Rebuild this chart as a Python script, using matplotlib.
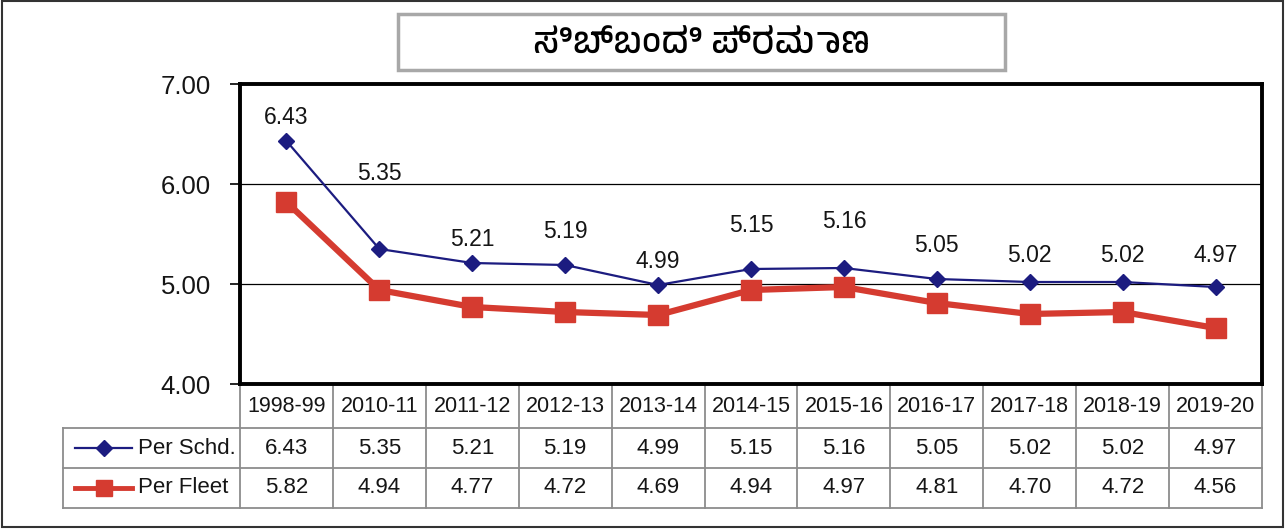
import matplotlib
matplotlib.use("Agg")
import matplotlib.pyplot as plt
from matplotlib import font_manager
from matplotlib.ft2font import FT2Font
from matplotlib.lines import Line2D
from matplotlib.patches import Rectangle

# data
years = ["1998-99", "2010-11", "2011-12", "2012-13", "2013-14", "2014-15",
         "2015-16", "2016-17", "2017-18", "2018-19", "2019-20"]
per_schd = [6.43, 5.35, 5.21, 5.19, 4.99, 5.15, 5.16, 5.05, 5.02, 5.02, 4.97]
per_fleet = [5.82, 4.94, 4.77, 4.72, 4.69, 4.94, 4.97, 4.81, 4.70, 4.72, 4.56]
series_names = ["Per Schd.", "Per Fleet"]
title = "ಸಿಬ್ಬಂದಿ ಪ್ರಮಾಣ"

BLUE = "#1c1c80"
RED = "#d53b30"
GRID = "#8c8c8c"
TXT = "#151515"


def find_font(ch):
    """Return a family name that has a glyph for ch, or None."""
    fonts = sorted(font_manager.fontManager.ttflist,
                   key=lambda f: "kannada" not in f.name.lower())
    for f in fonts:
        try:
            if ord(ch) in FT2Font(f.fname).get_charmap():
                return f.name
        except Exception:
            pass
    return None


plt.rcParams['font.family'] = ['Liberation Sans', 'DejaVu Sans']
kn_font = find_font("ಸ")
title_family = [kn_font, 'DejaVu Sans'] if kn_font else ['Noto Sans', 'DejaVu Sans']

fig = plt.figure(figsize=(12.85, 5.29), dpi=100)
ax = fig.add_axes([240 / 1285, 1 - 384 / 529, 1022 / 1285, 300 / 529])

x = list(range(len(years)))
ax.plot(x, per_fleet, color=RED, lw=4.5, marker='s', ms=15, mec=RED, zorder=3)
ax.plot(x, per_schd, color=BLUE, lw=1.6, marker='D', ms=8, mec=BLUE, zorder=4)

# value labels above the Per Schd. line
label_offsets = [24, 76, 23, 33, 23, 43, 46, 34, 27, 27, 31]
for i, v in enumerate(per_schd):
    ax.annotate(f"{v:.2f}", (i, v), xytext=(0, label_offsets[i]),
                textcoords='offset pixels', ha='center', va='center',
                fontsize=16.5, color=TXT)

ax.set_xlim(-0.5, len(years) - 0.5)
ax.set_ylim(4, 7)
ax.set_yticks([4, 5, 6, 7])
ax.set_yticklabels([f"{t:.2f}" for t in [4, 5, 6, 7]], fontsize=18.5, color=TXT)
ax.set_xticks([])
ax.tick_params(axis='y', direction='out', length=7, width=1.2, pad=14)
for t in [5, 6]:
    ax.axhline(t, color='black', lw=0.9, zorder=1)
for s in ax.spines.values():
    s.set_linewidth(2.8)
    s.set_color('black')

# data table under the axis
tr = ax.get_xaxis_transform()
row_edges = [0, -0.1467, -0.28, -0.4133]
leg_left = (63 - 240) / 1022
lkw = dict(color=GRID, lw=1.3, clip_on=False)
for i in range(len(years) + 1):
    ax.add_line(Line2D([i - 0.5, i - 0.5], [row_edges[0], row_edges[-1]],
                       transform=tr, **lkw))
for yy in row_edges[1:]:
    ax.add_line(Line2D([leg_left, 1], [yy, yy], transform=ax.transAxes, **lkw))
ax.add_line(Line2D([leg_left, leg_left], [row_edges[1], row_edges[-1]],
                   transform=ax.transAxes, **lkw))

for i, yr in enumerate(years):
    ax.text(i, (row_edges[0] + row_edges[1]) / 2, yr, transform=tr,
            ha='center', va='center', fontsize=15.5, color=TXT)
    ax.text(i, (row_edges[1] + row_edges[2]) / 2, f"{per_schd[i]:.2f}",
            transform=tr, ha='center', va='center', fontsize=16, color=TXT)
    ax.text(i, (row_edges[2] + row_edges[3]) / 2, f"{per_fleet[i]:.2f}",
            transform=tr, ha='center', va='center', fontsize=16, color=TXT)

# legend keys inside the table
key_x0, key_x1 = (75 - 240) / 1022, (132 - 240) / 1022
styles = [dict(color=BLUE, lw=1.6, marker='D', ms=8),
          dict(color=RED, lw=3.5, marker='s', ms=12)]
for r, (name, st) in enumerate(zip(series_names, styles)):
    yc = (row_edges[r + 1] + row_edges[r + 2]) / 2
    ax.add_line(Line2D([key_x0, key_x1], [yc, yc], transform=ax.transAxes,
                       clip_on=False, **st, markevery=[]))
    ax.add_line(Line2D([(key_x0 + key_x1) / 2], [yc], transform=ax.transAxes,
                       clip_on=False, ls='none', marker=st['marker'],
                       ms=st['ms'], color=st['color']))
    ax.text((138 - 240) / 1022, yc, name, transform=ax.transAxes,
            ha='left', va='center', fontsize=16, color=TXT)

# title box
fig.patches.append(Rectangle((398 / 1285, 1 - 70 / 529), 607 / 1285, 56 / 529,
                             transform=fig.transFigure, fill=False,
                             ec='#a8a8a8', lw=2.5))
fig.text(701 / 1285, 1 - 44 / 529, title, ha='center', va='center',
         fontsize=26, family=title_family, color='black')

# outer frame
fig.patches.append(Rectangle((2 / 1285, 2 / 529), 1281 / 1285, 526 / 529,
                             transform=fig.transFigure, fill=False,
                             ec='#333333', lw=1.5))

fig.savefig("out.png", dpi=100)
